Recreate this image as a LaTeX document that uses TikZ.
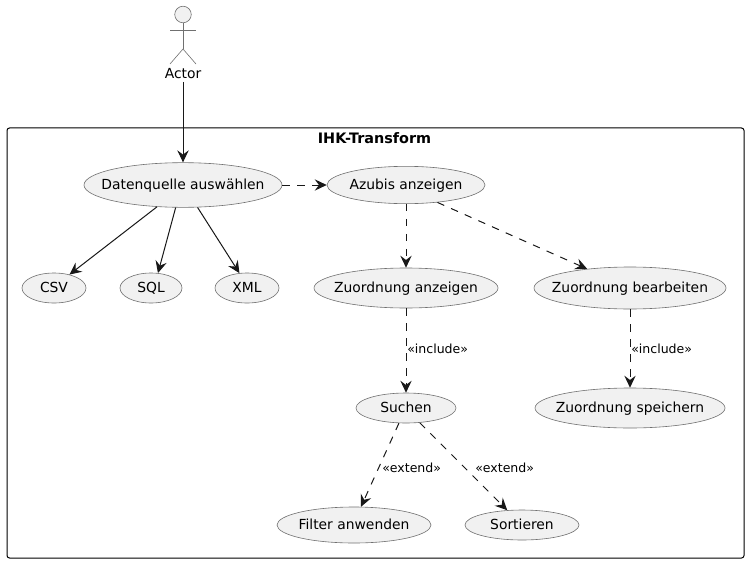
\documentclass[tikz,border=0pt]{standalone}
\usepackage{fontspec}
\setmainfont{DejaVu Sans}
\usetikzlibrary{shapes.geometric,arrows.meta}
\definecolor{ucfill}{HTML}{F1F1F1}
\definecolor{ucline}{HTML}{707070}
\definecolor{lnkline}{HTML}{181818}
\newcommand{\uctext}[1]{\makebox[0pt]{\smash{\raisebox{-0.3em}{#1}}}}
\tikzset{
  x=0.75pt,y=-0.75pt,
  uc/.style={ellipse,draw=ucline,fill=ucfill,line width=0.45pt,inner sep=0pt,font=\fontsize{10.4}{12}\selectfont,text=black},
  stick/.style={draw=ucline,line width=0.45pt},
  lnk/.style={draw=lnkline,line width=0.75pt,-{Stealth[length=9pt,width=8.5pt,inset=3.2pt]}},
  dlnk/.style={lnk,dash pattern=on 5.6pt off 5.6pt},
  lbl/.style={inner sep=0pt,font=\fontsize{9.4}{12}\selectfont,anchor=west}
}
\begin{document}
\begin{tikzpicture}
\useasboundingbox (0,0) rectangle (748,563);
\fill[white] (0,0) rectangle (748,563);
% frame
\node[draw=black,line width=0.75pt,rounded corners=1.9pt,minimum width=552.75pt,minimum height=322.5pt,inner sep=0pt] (frame) at (375.5,343) {};
\node[inner sep=0pt,font=\fontsize{10.8}{12}\selectfont\bfseries] (title) at (374.5,138) {IHK-Transform};
% actor
\node[circle,draw=ucline,fill=ucfill,line width=0.45pt,minimum size=12.4pt,inner sep=0pt] (head) at (183,14.5) {};
\coordinate (neck) at (183,23);
\coordinate (hip) at (183,49);
\coordinate (armL) at (170,30);
\coordinate (armR) at (196,30);
\coordinate (legL) at (170,64);
\coordinate (legR) at (196,64);
\draw[stick] (head.south) -- (hip);
\draw[stick] (armL) -- (armR);
\draw[stick] (legL) -- (hip) -- (legR);
\node[inner sep=0pt,font=\fontsize{10.4}{12}\selectfont] (actor) at (183,73.5) {Actor};
% use cases
\node[uc,minimum width=148.5pt,minimum height=33.5pt] (ds) at (183,185) {\uctext{Datenquelle auswählen}};
\node[uc,minimum width=118.5pt,minimum height=28pt] (az) at (406,185) {\uctext{Azubis anzeigen}};
\node[uc,minimum width=48pt,minimum height=22.5pt] (csv) at (54,288) {\uctext{CSV}};
\node[uc,minimum width=46.5pt,minimum height=22.5pt] (sql) at (151,288) {\uctext{SQL}};
\node[uc,minimum width=48pt,minimum height=22.5pt] (xml) at (247,288) {\uctext{XML}};
\node[uc,minimum width=138pt,minimum height=30pt] (za) at (406,288) {\uctext{Zuordnung anzeigen}};
\node[uc,minimum width=144pt,minimum height=31.5pt] (zb) at (630,288) {\uctext{Zuordnung bearbeiten}};
\node[uc,minimum width=75pt,minimum height=22.5pt] (su) at (406,408) {\uctext{Suchen}};
\node[uc,minimum width=142.5pt,minimum height=30pt] (zs) at (630,408) {\uctext{Zuordnung speichern}};
\node[uc,minimum width=115.5pt,minimum height=27pt] (fa) at (354,525) {\uctext{Filter anwenden}};
\node[uc,minimum width=85.5pt,minimum height=22.5pt] (so) at (522,525) {\uctext{Sortieren}};
% connectors
\draw[lnk] (actor.south |- 0,82) -- (ds.north);
\draw[lnk] (ds.220) -- (csv.41);
\draw[lnk] (ds.252) -- (sql.65);
\draw[lnk] (ds.303) -- (xml.117);
\draw[dlnk] (ds.east) -- (az.west);
\draw[dlnk] (az.south) -- (za.north);
\draw[dlnk] (az.331) -- (zb.156);
\draw[dlnk] (za.south) -- (su.north);
\draw[dlnk] (zb.south) -- (zs.north);
\draw[dlnk] (su.245) -- (fa.69);
\draw[dlnk] (su.313) -- (so.135);
\node[lbl] (l3) at (407,349) {«include»};
\node[lbl] (l4) at (631,349) {«include»};
\node[lbl] (l1) at (382,468) {«extend»};
\node[lbl] (l2) at (475,468) {«extend»};
\end{tikzpicture}
\end{document}
